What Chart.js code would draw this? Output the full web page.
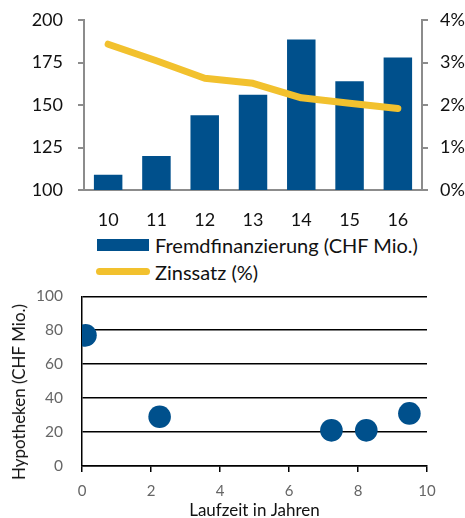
<!DOCTYPE html>
<html>
<head>
<meta charset="utf-8">
<script src="https://cdn.jsdelivr.net/npm/chart.js@4/dist/chart.umd.min.js"></script>
<style>
  html, body { margin: 0; padding: 0; background: #fff; }
  body { width: 465px; height: 518px; position: relative; overflow: hidden; font-family: Lato, "Open Sans", sans-serif; }
  #c1 { position: absolute; left: 0; top: 0; }
  #c2 { position: absolute; left: 0; top: 285px; }
  .leg { position: absolute; font-size: 20px; color: #111; line-height: 20px; white-space: nowrap; }
  .sw { position: absolute; }
  #ytitle { position: absolute; left: 19px; top: 392px; font-size: 17px; color: #111; white-space: nowrap;
            line-height: 18px; transform: translate(-50%, -50%) rotate(-90deg); }
</style>
</head>
<body>
<canvas id="c1" width="465" height="232"></canvas>
<div class="sw" style="left:97px; top:239px; width:52px; height:12px; background:#00508C;"></div>
<div class="leg" id="leg1" style="left:155px; top:235px;"></div>
<div class="sw" style="left:96px; top:268px; width:54px; height:7px; border-radius:4px; background:#F2C12E;"></div>
<div class="leg" id="leg2" style="left:155px; top:262px;"></div>
<canvas id="c2" width="465" height="233"></canvas>
<div id="ytitle"></div>
<script>
// ---- Data: top chart ----
const years = ['10', '11', '12', '13', '14', '15', '16'];
const financing = [109, 120, 144, 156, 188.5, 164, 178];   // CHF Mio.
const interestRate = [3.43, 3.04, 2.63, 2.51, 2.17, 2.04, 1.92]; // %
const financingLabel = 'Fremdfinanzierung (CHF Mio.)';
const rateLabel = 'Zinssatz (%)';

// ---- Data: bottom chart ----
const maturityYears = [0.1, 2.25, 7.23, 8.24, 9.49];
const mortgages = [77, 29, 21, 21, 31];
const xTitle = 'Laufzeit in Jahren';
const yTitle = 'Hypotheken (CHF Mio.)';

const BLUE = '#00508C';
const YELLOW = '#F2C12E';
const FONT = 'Lato, "Open Sans", sans-serif';

document.getElementById('leg1').textContent = financingLabel;
document.getElementById('leg2').textContent = rateLabel;
document.getElementById('ytitle').textContent = yTitle;

Chart.defaults.font.family = FONT;
Chart.defaults.animation = false;

function noPadV(w) {
  return s => { s.width = w; s.paddingTop = 0; s.paddingBottom = 0; };
}

new Chart(document.getElementById('c1'), {
  data: {
    labels: years,
    datasets: [
      {
        type: 'line', label: rateLabel, data: interestRate, yAxisID: 'yR',
        borderColor: YELLOW, borderWidth: 7, borderCapStyle: 'round', borderJoinStyle: 'round',
        pointRadius: 0, tension: 0, order: 0
      },
      {
        type: 'bar', label: financingLabel, data: financing, yAxisID: 'yL',
        backgroundColor: BLUE, barPercentage: 0.59, categoryPercentage: 1, order: 1
      }
    ]
  },
  options: {
    responsive: false,
    layout: { padding: { top: 20, left: 0, right: 0, bottom: 0 } },
    plugins: { legend: { display: false }, tooltip: { enabled: false } },
    scales: {
      x: {
        grid: { display: false, drawTicks: false },
        border: { color: '#8c8c8c', width: 2 },
        ticks: { color: '#111', font: { size: 18, family: FONT }, padding: 19 },
        afterFit: s => { s.height = 42; }
      },
      yL: {
        position: 'left', min: 100, max: 200,
        ticks: { stepSize: 25, color: '#111', font: { size: 18, family: FONT }, padding: 15 },
        grid: { drawOnChartArea: false, tickLength: 6, color: '#8c8c8c', lineWidth: 2 },
        border: { color: '#8c8c8c', width: 2 },
        afterFit: noPadV(84)
      },
      yR: {
        position: 'right', min: 0, max: 4,
        ticks: { stepSize: 1, color: '#111', font: { size: 18, family: FONT }, padding: 12,
                 callback: v => v + '%' },
        grid: { drawOnChartArea: false, tickLength: 6, color: '#8c8c8c', lineWidth: 2 },
        border: { color: '#8c8c8c', width: 2 },
        afterFit: noPadV(43)
      }
    }
  }
});

new Chart(document.getElementById('c2'), {
  type: 'scatter',
  data: {
    datasets: [{
      label: yTitle,
      data: maturityYears.map((x, i) => ({ x: x, y: mortgages[i] })),
      backgroundColor: BLUE, borderWidth: 0, pointRadius: 11.3, pointHoverRadius: 11.3
    }]
  },
  options: {
    responsive: false,
    layout: { padding: { top: 10, right: 38, left: 0, bottom: 0 } },
    plugins: { legend: { display: false }, tooltip: { enabled: false } },
    scales: {
      x: {
        min: 0, max: 10,
        ticks: { stepSize: 2, color: '#666', font: { size: 15, family: FONT }, padding: 10 },
        grid: { drawOnChartArea: false, tickLength: 6, color: '#000', lineWidth: 1.5 },
        border: { color: '#000', width: 1.5 },
        title: { display: true, text: xTitle, color: '#111', font: { size: 17, family: FONT }, padding: { top: 0, bottom: -3 } },
        afterFit: s => { s.height = 52; s.paddingLeft = 0; s.paddingRight = 0; }
      },
      y: {
        min: 0, max: 100,
        ticks: { stepSize: 20, color: '#666', font: { size: 15.5, family: FONT }, padding: 19 },
        grid: { drawTicks: false, color: '#000', lineWidth: 1.5 },
        border: { color: '#000', width: 1.5 },
        afterFit: noPadV(82)
      }
    }
  }
});
</script>
</body>
</html>
